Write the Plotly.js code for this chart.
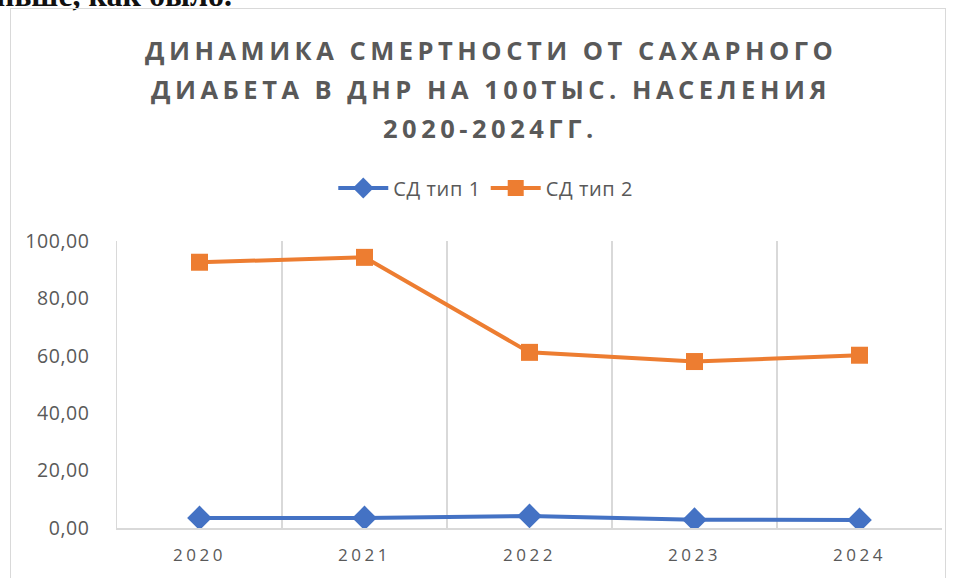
<!DOCTYPE html>
<html>
<head>
<meta charset="utf-8">
<script src="https://cdn.plot.ly/plotly-3.0.1.min.js"></script>
<style>
html, body { margin: 0; padding: 0; background: #fff; overflow: hidden; }
#wrap { position: relative; width: 958px; height: 578px; }
#chart { position: absolute; left: 0; top: 0; width: 958px; height: 578px; }
#frame { position: absolute; left: 10px; top: 8px; width: 934px; height: 600px; border: 1px solid #d9d9d9; pointer-events: none; }
#doctext { position: absolute; left: -4px; top: -23px; font-family: "Liberation Serif", serif; font-weight: bold; font-size: 32px; color: #111; white-space: nowrap; }
.annotation-text { letter-spacing: 4.5px; }
.xtick text { letter-spacing: 3.5px; }
.ytick text { letter-spacing: 0.6px; }
.legendtext { letter-spacing: 0.6px; }
</style>
</head>
<body>
<div id="wrap">
  <div id="doctext">ньше, как было.</div>
  <div id="chart"></div>
  <div id="frame"></div>
</div>
<script>
// Data
const years = ["2020", "2021", "2022", "2023", "2024"];
const sdType1 = [3.5, 3.5, 4.2, 2.9, 2.8];
const sdType2 = [92.6, 94.3, 61.2, 58.0, 60.2];
const seriesNames = ["СД тип 1", "СД тип 2"];
const titleLines = ["ДИНАМИКА СМЕРТНОСТИ ОТ САХАРНОГО", "ДИАБЕТА В ДНР НА 100ТЫС. НАСЕЛЕНИЯ", "2020-2024ГГ."];
const yTicks = [0, 20, 40, 60, 80, 100];

const gray = "#595959";
const font = "Open Sans, Liberation Sans, sans-serif";

const traces = [
  {
    x: years, y: sdType1, name: seriesNames[0], type: "scatter", mode: "lines+markers",
    line: { color: "#4472C4", width: 4 },
    marker: { symbol: "diamond", size: 19, color: "#4472C4" }
  },
  {
    x: years, y: sdType2, name: seriesNames[1], type: "scatter", mode: "lines+markers",
    line: { color: "#ED7D31", width: 4 },
    marker: { symbol: "square", size: 17, color: "#ED7D31" }
  }
];

const annotations = titleLines.map((t, i) => ({
  text: t, xref: "paper", yref: "paper", x: 0.453, y: 1 + (191 - i * 39) / 287,
  xanchor: "center", yanchor: "middle", showarrow: false,
  font: { family: font, size: 25.5, color: gray, weight: 700 }
}));

const layout = {
  width: 958, height: 578,
  margin: { l: 117, r: 16, t: 241, b: 50 },
  paper_bgcolor: "rgba(0,0,0,0)", plot_bgcolor: "#fff",
  separators: ", ",
  showlegend: true,
  legend: {
    orientation: "h", x: 0.447, xanchor: "center", y: 1 + 53 / 287, yanchor: "middle",
    font: { family: font, size: 20, color: gray }, itemwidth: 50, traceorder: "normal"
  },
  annotations: annotations,
  xaxis: {
    type: "category", tickson: "boundaries", showgrid: true, gridcolor: "#d9d9d9", gridwidth: 1.5,
    showline: true, linecolor: "#d9d9d9", linewidth: 1.5, ticks: "", range: [-0.5, 4.5],
    tickfont: { family: font, size: 17, color: gray }, ticklabelstandoff: 11
  },
  yaxis: {
    range: [0, 100], tickvals: yTicks, tickformat: ".2f", showgrid: false, zeroline: false,
    showline: true, linecolor: "#d9d9d9", linewidth: 1.5, ticks: "",
    tickfont: { family: font, size: 19.5, color: gray }, ticklabelstandoff: 22
  }
};

Plotly.newPlot("chart", traces, layout, { displayModeBar: false, staticPlot: true });
</script>
</body>
</html>
